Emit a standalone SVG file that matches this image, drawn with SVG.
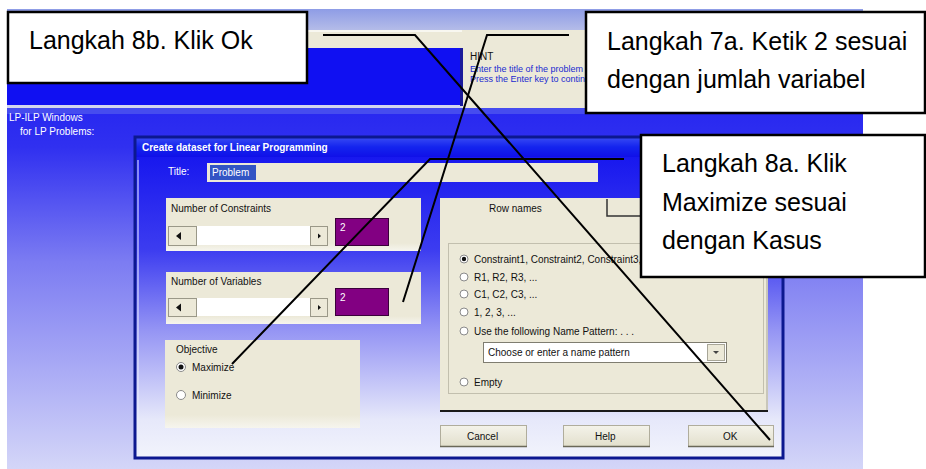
<svg xmlns="http://www.w3.org/2000/svg" width="926" height="469" viewBox="0 0 926 469">
  <defs>
    <linearGradient id="deskGrad" x1="0" y1="0" x2="0" y2="1">
      <stop offset="0" stop-color="#1212f0"/>
      <stop offset="0.3" stop-color="#3030f0"/>
      <stop offset="0.55" stop-color="#7c7cf2"/>
      <stop offset="1" stop-color="#d4d6f8"/>
    </linearGradient>
    <linearGradient id="dlgGrad" x1="0" y1="0" x2="0" y2="1">
      <stop offset="0" stop-color="#1010ee"/>
      <stop offset="0.35" stop-color="#3c3cf0"/>
      <stop offset="0.6" stop-color="#9494f4"/>
      <stop offset="0.88" stop-color="#e6e8fa"/>
      <stop offset="1" stop-color="#f2f4fc"/>
    </linearGradient>
    <linearGradient id="titleGrad" x1="0" y1="0" x2="0" y2="1">
      <stop offset="0" stop-color="#3a4cf4"/>
      <stop offset="0.5" stop-color="#1424ee"/>
      <stop offset="1" stop-color="#1010e8"/>
    </linearGradient>
    <linearGradient id="topGrad" x1="0" y1="0" x2="0" y2="1">
      <stop offset="0" stop-color="#8e9ce6"/>
      <stop offset="1" stop-color="#b4bce8"/>
    </linearGradient>
    <linearGradient id="panelGrad" x1="0" y1="0" x2="0" y2="1">
      <stop offset="0" stop-color="#ece9d8"/>
      <stop offset="0.85" stop-color="#ece9d8"/>
      <stop offset="1" stop-color="#f6f5ee"/>
    </linearGradient>
    <linearGradient id="btnGrad" x1="0" y1="0" x2="0" y2="1">
      <stop offset="0" stop-color="#f4f3ea"/>
      <stop offset="1" stop-color="#e2dfcc"/>
    </linearGradient>
    <style>
      .ui { font-family: "Liberation Sans", Arial, sans-serif; font-size: 10px; fill: #111; }
      .uiw { font-family: "Liberation Sans", Arial, sans-serif; font-size: 10px; fill: #fff; }
      .uib { font-family: "Liberation Sans", Arial, sans-serif; font-size: 9px; fill: #1a2ad0; }
      .grp { fill: url(#panelGrad); }
      .purple { fill: #820082; stroke: #3a003a; stroke-width: 1; }
      .track { fill: #ffffff; }
      .sbtn { fill: #ece9d8; stroke: #9a9888; stroke-width: 1; }
      .btn { fill: url(#btnGrad); stroke: #b0ad9c; stroke-width: 1; }
      .radio { fill: #fff; stroke: #8a8a8a; stroke-width: 1; }
      .callout rect { fill: #ffffff; stroke: #000000; stroke-width: 2.5; }
      .callout text { font-family: "Liberation Sans", Arial, sans-serif; font-size: 25px; fill: #000; }
      .conn { fill: none; stroke: #000; stroke-width: 2; stroke-linejoin: miter; }
    </style>
  </defs>

  <rect width="926" height="469" fill="#ffffff"/>

  <!-- application window behind the dialog -->
  <g id="app-window">
    <rect x="7" y="9" width="856" height="460" fill="url(#deskGrad)"/>
    <rect x="7" y="9" width="856" height="21" fill="url(#topGrad)"/>
    <rect x="7" y="30" width="856" height="18" fill="#ece9d8"/>
    <rect x="7" y="30" width="856" height="2" fill="#f8f7f0"/>
    <rect x="7" y="48" width="856" height="57" fill="#1010f2"/>
    <rect x="7" y="105" width="856" height="3" fill="#d4d6ee"/>
    <rect x="7" y="108" width="856" height="6" fill="#5a64ee" opacity="0.6"/>
    <!-- hint panel -->
    <rect x="462" y="30" width="125" height="78" fill="#ece9d8"/>
    <rect x="460" y="48" width="3" height="58" fill="#1a1a9a"/>
    <text class="ui" x="470" y="60" font-size="8">HINT</text>
    <text class="uib" x="470" y="72">Enter the title of the problem</text>
    <text class="uib" x="470" y="82">Press the Enter key to continue</text>
    <!-- side labels -->
    <text class="uiw" x="9" y="121">LP-ILP Windows</text>
    <text class="uiw" x="20" y="135">for LP Problems:</text>
  </g>

  <!-- Create dataset dialog -->
  <g id="dialog">
    <rect x="135" y="137" width="648" height="321" fill="url(#dlgGrad)"/>
    <rect x="135" y="137" width="648" height="20" fill="url(#titleGrad)"/>
    <text class="uiw" x="142" y="151" font-size="11" font-weight="bold">Create dataset for Linear Programming</text>
    <rect x="135" y="137" width="648" height="321" fill="none" stroke="#0c1890" stroke-width="3"/>
    <line x1="138" y1="160" x2="138" y2="455" stroke="#e8ecff" stroke-width="1.5" opacity="0.7"/>

    <!-- title field -->
    <text class="uiw" x="168" y="175">Title:</text>
    <rect x="207" y="163" width="391" height="19" fill="#ece9d8"/>
    <rect x="210" y="165" width="46" height="15" fill="#3254c4"/>
    <text class="uiw" x="212" y="176">Problem</text>

    <!-- number of constraints -->
    <rect class="grp" x="166" y="198" width="255" height="53"/>
    <text class="ui" x="171" y="212">Number of Constraints</text>
    <rect class="track" x="197" y="226" width="113" height="19"/>
    <rect class="sbtn" x="168.5" y="226.5" width="28" height="19"/>
    <rect class="sbtn" x="310.5" y="226.5" width="17" height="19"/>
    <path d="M176 236 l5 -4 v8 z" fill="#111"/>
    <path d="M321 236 l-3 -2.5 v5 z" fill="#111"/>
    <rect class="purple" x="335.5" y="218.5" width="53" height="27"/>
    <text class="uiw" x="340" y="231">2</text>

    <!-- number of variables -->
    <rect class="grp" x="166" y="272" width="255" height="52"/>
    <text class="ui" x="171" y="285">Number of Variables</text>
    <rect class="track" x="197" y="298" width="113" height="18"/>
    <rect class="sbtn" x="168.5" y="298.5" width="28" height="18"/>
    <rect class="sbtn" x="310.5" y="298.5" width="17" height="18"/>
    <path d="M176 307.5 l5 -4 v8 z" fill="#111"/>
    <path d="M321 307.5 l-3 -2.5 v5 z" fill="#111"/>
    <rect class="purple" x="335.5" y="288.5" width="53" height="27"/>
    <text class="uiw" x="340" y="301">2</text>

    <!-- objective -->
    <rect class="grp" x="165" y="340" width="195" height="88"/>
    <text class="ui" x="176" y="353">Objective</text>
    <circle class="radio" cx="181" cy="367" r="4.5"/>
    <circle cx="181" cy="367" r="2.5" fill="#111"/>
    <text class="ui" x="192" y="371">Maximize</text>
    <circle class="radio" cx="181" cy="395" r="4.5"/>
    <text class="ui" x="192" y="399">Minimize</text>

    <!-- row names panel -->
    <rect x="440" y="198" width="328" height="213" fill="#ece9d8"/>
    <line x1="440" y1="411" x2="768" y2="411" stroke="#1a1a1a" stroke-width="2"/>
    <line x1="767" y1="198" x2="767" y2="410" stroke="#c8c6ba" stroke-width="2"/>
    <text class="ui" x="489" y="212">Row names</text>
    <path d="M607 199 V216 H700" fill="none" stroke="#333" stroke-width="1.5"/>
    <rect x="448.5" y="243.5" width="315" height="150" fill="none" stroke="#c2bfae" stroke-width="1"/>
    <circle class="radio" cx="464" cy="259" r="4"/>
    <circle cx="464" cy="259" r="2.2" fill="#111"/>
    <text class="ui" x="474" y="263">Constraint1, Constraint2, Constraint3, ...</text>
    <circle class="radio" cx="464" cy="277" r="4"/>
    <text class="ui" x="474" y="281">R1, R2, R3, ...</text>
    <circle class="radio" cx="464" cy="294" r="4"/>
    <text class="ui" x="474" y="298">C1, C2, C3, ...</text>
    <circle class="radio" cx="464" cy="312" r="4"/>
    <text class="ui" x="474" y="316">1, 2, 3, ...</text>
    <circle class="radio" cx="464" cy="331" r="4"/>
    <text class="ui" x="474" y="335">Use the following Name Pattern: . . .</text>
    <rect x="483.5" y="342.5" width="243" height="20" fill="#ffffff" stroke="#7f7d70" stroke-width="1"/>
    <text class="ui" x="488" y="356" fill="#9a9a9a">Choose or enter a name pattern</text>
    <rect x="707.5" y="344.5" width="17" height="16" fill="#ece9d8" stroke="#a8a698" stroke-width="1"/>
    <path d="M713 351 h6 l-3 3 z" fill="#444"/>
    <circle class="radio" cx="464" cy="382" r="4"/>
    <text class="ui" x="474" y="386">Empty</text>

    <!-- buttons -->
    <rect class="btn" x="440.5" y="425.5" width="86" height="21"/>
    <line x1="440" y1="446.5" x2="527" y2="446.5" stroke="#6a6858" stroke-width="1.5"/>
    <text class="ui" x="467" y="440">Cancel</text>
    <rect class="btn" x="563.5" y="425.5" width="86" height="21"/>
    <line x1="563" y1="446.5" x2="650" y2="446.5" stroke="#6a6858" stroke-width="1.5"/>
    <text class="ui" x="595" y="440">Help</text>
    <rect class="btn" x="688.5" y="425.5" width="85" height="21"/>
    <line x1="688" y1="446.5" x2="774" y2="446.5" stroke="#6a6858" stroke-width="1.5"/>
    <text class="ui" x="723" y="440">OK</text>
  </g>

  <!-- step callouts -->
  <g id="callout-8b" class="callout">
    <rect x="8" y="12" width="299" height="71"/>
    <text x="29" y="49">Langkah 8b. Klik Ok</text>
  </g>
  <g id="callout-7a" class="callout">
    <rect x="586" y="12" width="339" height="101"/>
    <text x="607" y="50">Langkah 7a. Ketik 2 sesuai</text>
    <text x="607" y="88">dengan jumlah variabel</text>
  </g>
  <g id="callout-8a" class="callout">
    <rect x="641" y="135" width="284" height="142"/>
    <text x="662" y="172">Langkah 8a. Klik</text>
    <text x="662" y="211">Maximize sesuai</text>
    <text x="662" y="249">dengan Kasus</text>
  </g>

  <!-- leader lines -->
  <g id="connectors">
    <polyline class="conn" points="323,35 415,35 770,440"/>
    <polyline class="conn" points="569,35 487,35 403,302"/>
    <polyline class="conn" points="624,159 430,159 232,364"/>
  </g>
</svg>
